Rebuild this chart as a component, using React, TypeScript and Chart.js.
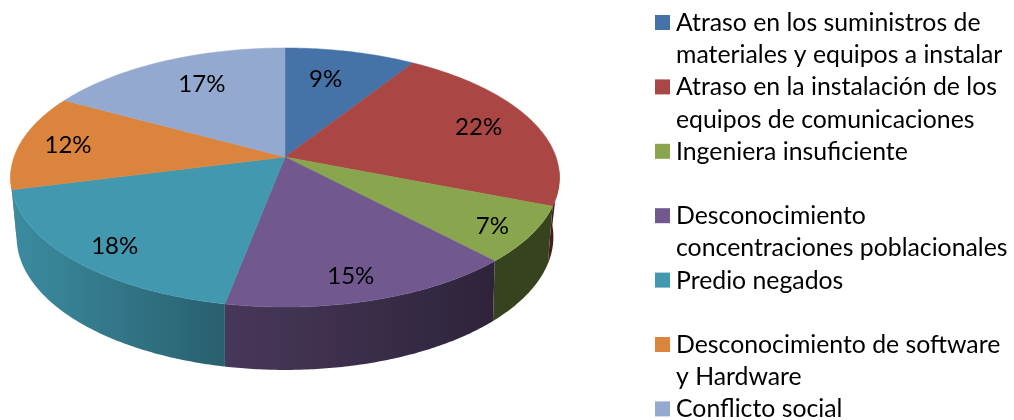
import React, { useEffect, useRef } from "react";
import { Chart, registerables } from "chart.js";

Chart.register(...registerables);

const categories = [
  ["Atraso en los suministros de", "materiales y equipos a instalar"],
  ["Atraso en la instalación de los", "equipos de comunicaciones"],
  ["Ingeniera insuficiente"],
  ["Desconocimiento", "concentraciones poblacionales"],
  ["Predio negados"],
  ["Desconocimiento de software", "y Hardware"],
  ["Conflicto social"],
];
const shares = [9, 22, 7, 15, 18, 12, 17];
const sliceColors = ["#4572A7", "#AA4643", "#89A54E", "#71588F", "#4198AF", "#DB843D", "#93A9CF"];
// How far out along each slice's bisector its percentage sits, as a fraction of the radius.
const labelReach = [0.68, 0.78, 0.87, 0.85, 0.83, 0.82, 0.7];
// Small pixel corrections to those percentage positions.
const labelNudge = [[-6, -3], [0, 0], [-4, 2], [-8, 1], [0, 5], [0, 1], [5, -3]];

const FONT = "Lato, 'Open Sans', sans-serif";

type Ring = { dy: number; a: number; b: number; p: number };
// Perspective views of the disc's top and bottom rims, as multiples of the chart radius.
const TOP_RING: Ring = { dy: 0, a: 271 / 157, b: 126.3 / 157, p: -0.1583 };
const BOTTOM_RING: Ring = { dy: 56, a: 264 / 157, b: 128.7 / 157, p: -0.18 };

function rimPoint(arc: any, ring: Ring, angle: number) {
  const u = Math.cos(angle);
  const v = Math.sin(angle);
  const w = 1 + ring.p * v;
  return {
    x: arc.x + (arc.outerRadius * ring.a * u) / w,
    y: arc.y + ring.dy + (arc.outerRadius * ring.b * v) / w,
  };
}

function rimPath(arc: any, ring: Ring, from: number, to: number) {
  const steps = Math.max(2, Math.ceil(Math.abs(to - from) / 0.01));
  const pts = [];
  for (let i = 0; i <= steps; i++) pts.push(rimPoint(arc, ring, from + ((to - from) * i) / steps));
  return pts;
}

// Side wall brightness falls off from left to right.
function wallShade(x: number) {
  if (x < 225) return 0.92 - (x - 10) * 0.00135;
  return Math.max(0.4, 0.63 - (x - 225) * 0.00083);
}

function shadeColor(hex: string, f: number) {
  const n = parseInt(hex.slice(1), 16);
  const ch = (s: number) => Math.round(((n >> s) & 255) * f);
  return `rgb(${ch(16)},${ch(8)},${ch(0)})`;
}

const pie3d = {
  id: "pie3d",
  beforeDatasetDraw(chart: any) {
    const ctx = chart.ctx;
    const arcs = chart.getDatasetMeta(0).data;
    const colors = chart.data.datasets[0].backgroundColor;
    const wallFrom = Math.PI * 0.03;
    const wallTo = Math.PI * 0.97;

    // Walls go first, furthest from the viewer first.
    const order = arcs
      .map((_: any, i: number) => i)
      .sort((i: number, j: number) => {
        const mid = (k: number) => (arcs[k].startAngle + arcs[k].endAngle) / 2;
        return Math.sin(mid(i)) - Math.sin(mid(j));
      });
    for (const i of order) {
      const arc = arcs[i];
      const start = Math.max(arc.startAngle, wallFrom);
      const end = Math.min(arc.endAngle, wallTo);
      if (end <= start) continue;
      const top = rimPath(arc, TOP_RING, start, end);
      const bottom = rimPath(arc, BOTTOM_RING, start, end).reverse();
      const xs = [...top, ...bottom].map((pt) => pt.x);
      const x0 = Math.min(...xs);
      const x1 = Math.max(...xs);
      const grad = ctx.createLinearGradient(x0, 0, x1, 0);
      for (let s = 0; s <= 8; s++) {
        grad.addColorStop(s / 8, shadeColor(colors[i], wallShade(x0 + ((x1 - x0) * s) / 8)));
      }
      ctx.beginPath();
      [...top, ...bottom].forEach((pt, k) => (k ? ctx.lineTo(pt.x, pt.y) : ctx.moveTo(pt.x, pt.y)));
      ctx.closePath();
      ctx.fillStyle = grad;
      ctx.fill();
    }

    // Top faces.
    arcs.forEach((arc: any, i: number) => {
      ctx.beginPath();
      ctx.moveTo(arc.x, arc.y);
      rimPath(arc, TOP_RING, arc.startAngle, arc.endAngle).forEach((pt) => ctx.lineTo(pt.x, pt.y));
      ctx.closePath();
      ctx.fillStyle = colors[i];
      ctx.strokeStyle = colors[i];
      ctx.lineWidth = 0.5;
      ctx.fill();
      ctx.stroke();
    });

    // Percentage labels.
    const values = chart.data.datasets[0].data;
    const total = values.reduce((s: number, v: number) => s + v, 0);
    ctx.font = `24px ${FONT}`;
    ctx.fillStyle = "#000";
    ctx.textAlign = "center";
    ctx.textBaseline = "middle";
    arcs.forEach((arc: any, i: number) => {
      const mid = (arc.startAngle + arc.endAngle) / 2;
      const r = labelReach[i];
      const w = 1 + TOP_RING.p * r * Math.sin(mid);
      const x = arc.x + (arc.outerRadius * TOP_RING.a * r * Math.cos(mid)) / w;
      const y = arc.y + (arc.outerRadius * TOP_RING.b * r * Math.sin(mid)) / w;
      ctx.fillText(`${Math.round((values[i] / total) * 100)}%`, x + labelNudge[i][0], y + labelNudge[i][1]);
    });

    // Legend: a colour square and up to two lines of text per entry.
    const legendX = 655;
    const rowPitch = 64.4;
    const linePitch = 32.2;
    ctx.font = `24.8px ${FONT}`;
    categories.forEach((lines, i) => {
      const top = 15 + rowPitch * i;
      ctx.fillStyle = colors[i];
      ctx.fillRect(legendX, top, 15, 15);
      ctx.fillStyle = "#000";
      ctx.textAlign = "left";
      ctx.textBaseline = "alphabetic";
      lines.forEach((line, k) => ctx.fillText(line, legendX + 21, top + 16 + linePitch * k));
    });
    return false;
  },
};

export default function App() {
  const ref = useRef<HTMLCanvasElement>(null);
  useEffect(() => {
    document.body.style.margin = "0";
    const chart = new Chart(ref.current!, {
      type: "pie",
      data: {
        labels: categories.map((lines) => lines.join(" ")),
        datasets: [{ data: shares, backgroundColor: sliceColors, borderWidth: 0 }],
      },
      options: {
        responsive: false,
        animation: false,
        layout: { padding: { left: 128, right: 572, top: 0, bottom: 106 } },
        plugins: { legend: { display: false }, tooltip: { enabled: false } },
      },
      plugins: [pie3d],
    } as any);
    return () => chart.destroy();
  }, []);
  return (
    <div style={{ background: "#fff", width: 1014, height: 420 }}>
      <canvas ref={ref} width={1014} height={420} style={{ display: "block" }} />
    </div>
  );
}
